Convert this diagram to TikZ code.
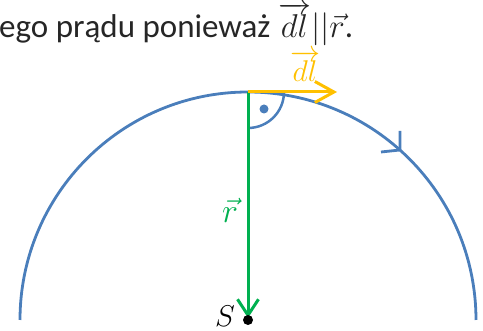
\RequirePackage{fix-cm}
\documentclass[tikz,border=0pt]{standalone}
\usepackage{amsmath}
\usepackage{fontspec}
\setmainfont{Carlito}
\usetikzlibrary{arrows.meta}
\definecolor{cblue}{HTML}{4A7EBB}
\definecolor{cgreen}{HTML}{00B050}
\definecolor{corange}{HTML}{FFC000}
\definecolor{ctext}{HTML}{262626}
\newcommand{\lowdl}{\raisebox{0pt}[0.7em][0pt]{$dl$}}
\begin{document}
\begin{tikzpicture}[x=1pt,y=1pt,
  vec/.style={line width=3pt},
  lbl/.style={inner sep=0pt, font=\fontsize{30}{36}\selectfont}]
\useasboundingbox (0,0) rectangle (483,331);
% title text
\node[anchor=base west, inner sep=0pt, text=ctext, font=\fontsize{33}{40}\selectfont] (title) at (-1,293)
  {ego prądu ponieważ $\overrightarrow{\lowdl}{||}\vec{r}$.};
% points
\coordinate (S) at (248,11);
\coordinate (T) at (248,239);
\coordinate (Rend) at (248,13);
\coordinate (Dend) at (337,239);
% big arc
\draw[cblue, line width=2.8pt] (S) ++(180:228) arc (180:0:228);
% arrow on arc
\coordinate (AT) at (400,181);
\draw[cblue, line width=2.8pt] (381,179) -- (AT) -- (400,200);
% right angle mark
\draw[cblue, line width=2.5pt] (T) ++(-90:36) arc (-90:0:36);
\fill[cblue] (264,222) circle (4.5);
% vectors
\draw[vec, cgreen, -{Straight Barb[length=16pt,width=21pt]}] (T) -- (Rend);
\draw[vec, corange, -{Straight Barb[length=19pt,width=21pt]}] (T) -- (Dend);
% point S
\fill[black] (S) circle (5);
% labels
\node[lbl, text=corange] (dl) at (305,265) {$\overrightarrow{dl}$};
\node[lbl, text=cgreen, font=\fontsize{34}{40}\selectfont] (r) at (230,121) {$\vec{r}$};
\node[lbl, text=black, anchor=base] (s) at (225,4) {$S$};
\end{tikzpicture}
\end{document}
